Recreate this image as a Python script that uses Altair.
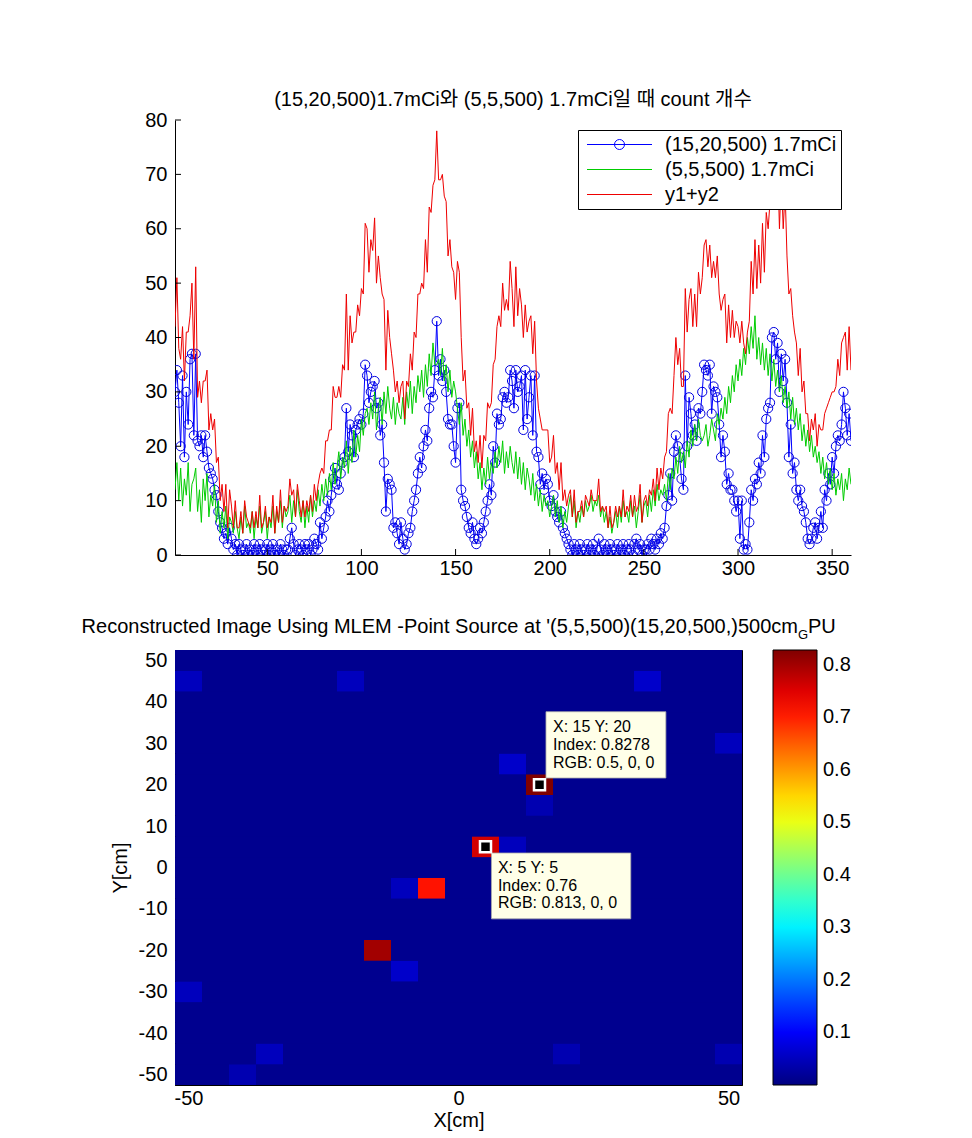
import altair as alt
import pandas as pd

FONT = "Liberation Sans, Arial, Noto Sans CJK KR, sans-serif"
FS = 20

# ---------------- top panel data ----------------
X_IDX = list(range(1, 361))
SERIES = ["(15,20,500) 1.7mCi", "(5,5,500) 1.7mCi", "y1+y2"]
SERIES_COLORS = ["#0000FF", "#00CC00", "#EE0000"]
TOP_TITLE = "(15,20,500)1.7mCi와 (5,5,500) 1.7mCi일 때 count 개수"
TOP_X_TICKS = [50, 100, 150, 200, 250, 300, 350]
TOP_Y_TICKS = [0, 10, 20, 30, 40, 50, 60, 70, 80]

Y1 = [
    30, 34, 28, 20, 33, 18, 30, 24, 36, 37,
    22, 37, 21, 20, 22, 18, 22, 19, 16, 15,
    14, 12, 11, 8, 6, 5, 3, 4, 2, 5,
    3, 1, 2, 0, 2, 1, 0, 1, 2, 0,
    1, 0, 2, 1, 0, 2, 1, 0, 1, 2,
    0, 1, 2, 0, 1, 0, 2, 1, 0, 1,
    1, 3, 5, 2, 0, 1, 2, 1, 0, 2,
    1, 2, 0, 1, 3, 2, 1, 6, 3, 5,
    7, 10, 8, 11, 14, 16, 13, 12, 15, 17,
    18, 27, 19, 24, 22, 18, 23, 24, 25, 24,
    26, 35, 33, 28, 30, 31, 32, 27, 28, 22,
    24, 17, 8, 14, 13, 12, 5, 6, 4, 2,
    6, 3, 1, 2, 4, 5, 8, 10, 12, 15,
    18, 16, 20, 23, 21, 27, 30, 29, 34, 43,
    33, 36, 32, 34, 30, 25, 24, 24, 20, 17,
    27, 28, 12, 10, 9, 7, 5, 4, 6, 3,
    2, 3, 5, 4, 6, 8, 10, 13, 11, 20,
    17, 26, 24, 25, 29, 30, 28, 29, 34, 32,
    27, 34, 30, 31, 33, 23, 34, 25, 29, 33,
    22, 33, 19, 18, 13, 15, 12, 14, 13, 10,
    9, 11, 8, 7, 6, 8, 5, 4, 3, 2,
    1, 0, 2, 1, 0, 2, 1, 0, 1, 2,
    0, 1, 2, 0, 1, 3, 1, 0, 2, 1,
    0, 2, 1, 0, 1, 2, 0, 1, 2, 0,
    1, 2, 1, 0, 2, 3, 1, 2, 0, 1,
    1, 2, 1, 3, 2, 1, 3, 2, 4, 3,
    5, 9, 11, 15, 10, 19, 22, 20, 18, 14,
    12, 33, 20, 29, 26, 22, 24, 21, 27, 26,
    30, 35, 34, 33, 35, 26, 31, 30, 29, 24,
    18, 22, 19, 13, 15, 12, 12, 10, 8, 10,
    3, 10, 1, 2, 1, 6, 12, 10, 14, 13,
    17, 15, 22, 18, 25, 27, 28, 40, 41, 36,
    39, 30, 37, 32, 36, 28, 18, 24, 15, 17,
    12, 10, 12, 9, 8, 6, 3, 2, 3, 5,
    6, 3, 5, 8, 5, 12, 10, 15, 13, 18,
    15, 20, 22, 21, 24, 30, 27, 22, 26, 21,
]

Y2 = [
    12, 17, 10, 16, 9, 14, 11, 17, 8, 13,
    14, 16, 8, 12, 6, 14, 10, 15, 7, 11,
    9, 13, 6, 10, 4, 8, 5, 9, 3, 7,
    6, 4, 8, 5, 3, 7, 4, 9, 5, 6,
    4, 8, 3, 7, 5, 9, 4, 6, 8, 3,
    7, 5, 9, 4, 8, 6, 10, 5, 9, 7,
    8, 11, 6, 10, 7, 12, 8, 6, 10, 5,
    9, 6, 11, 7, 10, 8, 12, 9, 13, 10,
    14, 11, 15, 12, 17, 13, 16, 19, 14, 18,
    16, 21, 15, 20, 17, 23, 18, 22, 19, 25,
    22, 26, 27, 24, 28, 25, 30, 23, 27, 29,
    24, 30, 26, 31, 27, 25, 29, 24, 28, 26,
    25, 29, 24, 30, 27, 32, 26, 31, 28, 33,
    30, 34, 29, 35, 31, 37, 33, 39, 35, 35,
    36, 33, 38, 32, 35, 30, 34, 29, 32, 30,
    27, 24, 28, 22, 25, 20, 23, 18, 21, 16,
    19, 14, 17, 12, 16, 13, 18, 14, 17, 15,
    19, 16, 20, 17, 21, 15, 19, 16, 20, 17,
    15, 19, 14, 18, 13, 17, 12, 16, 14, 11,
    15, 10, 13, 9, 12, 8, 11, 9, 10, 7,
    9, 11, 7, 10, 6, 9, 5, 8, 6, 9,
    11, 7, 10, 5, 8, 6, 9, 7, 10, 8,
    9, 11, 8, 10, 9, 11, 7, 9, 6, 8,
    5, 7, 4, 6, 8, 5, 9, 6, 10, 7,
    8, 6, 10, 7, 9, 5, 8, 11, 6, 9,
    10, 7, 11, 8, 12, 9, 13, 10, 12, 11,
    13, 10, 15, 12, 16, 14, 18, 15, 20, 17,
    19, 16, 21, 18, 23, 20, 24, 21, 25, 22,
    21, 22, 24, 20, 22, 25, 23, 21, 26, 24,
    27, 25, 29, 26, 31, 28, 33, 30, 35, 32,
    36, 33, 38, 35, 40, 37, 42, 38, 44, 36,
    40, 35, 39, 34, 38, 33, 37, 32, 36, 31,
    34, 30, 33, 28, 31, 27, 30, 25, 29, 24,
    27, 23, 26, 21, 24, 20, 23, 19, 22, 18,
    20, 17, 19, 15, 18, 14, 17, 13, 16, 12,
    15, 11, 14, 12, 15, 10, 14, 12, 16, 13,
]

# ---------------- bottom panel data ----------------
GRID = list(range(-50, 51, 5))
BG_VALUE = 0.012
BG_COLOR = "#00008E"
HOT_X = [15, 5, -5, -15, -50, -20, 35, 50, 10, 15, 10, -10, -10, -50, -35, -40, 20, 50]
HOT_Y = [20, 5, -5, -20, 45, 45, 45, 30, 25, 15, 5, -5, -25, -30, -45, -50, -45, -45]
HOT_V = [0.8278, 0.76, 0.71, 0.80, 0.05, 0.05, 0.06, 0.05, 0.06, 0.04,
         0.05, 0.05, 0.06, 0.05, 0.05, 0.04, 0.04, 0.04]
C_MIN, C_MAX = 0.0, 0.8278
JET_FRAC = [0, 0.125, 0.375, 0.625, 0.875, 1.0]
JET_COLORS = ["#000080", "#0000FF", "#00FFFF", "#FFFF00", "#FF0000", "#800000"]
CBAR_TICKS = [0.1, 0.2, 0.3, 0.4, 0.5, 0.6, 0.7, 0.8]
HX_TICKS = [-50, 0, 50]
HY_TICKS = [-50, -40, -30, -20, -10, 0, 10, 20, 30, 40, 50]

TIP_BOX_X1 = [16.2, 6.1]
TIP_BOX_X2 = [38.4, 31.9]
TIP_BOX_Y1 = [37.6, 3.5]
TIP_BOX_Y2 = [21.6, -12.4]
TIP_TEXT = ["X: 15 Y: 20", "Index: 0.8278", "RGB: 0.5, 0, 0",
            "X: 5 Y: 5", "Index: 0.76", "RGB: 0.813, 0, 0"]
TIP_TX = [17.5, 17.5, 17.5, 7.3, 7.3, 7.3]
TIP_TY = [33.9, 29.6, 25.2, -0.1, -4.4, -8.6]
MARK_X = [15, 5]
MARK_Y = [20, 5]

BOTTOM_TITLE_MAIN = "Reconstructed Image Using MLEM -Point Source at '(5,5,500)(15,20,500,)500cm"
BOTTOM_TITLE_SUB = "G"
BOTTOM_TITLE_TAIL = "PU"

assert len(Y1) == 360 and len(Y2) == 360

# ---------------- build tables ----------------
Y3 = [a + b for a, b in zip(Y1, Y2)]
rows = []
for name, vals in zip(SERIES, [Y1, Y2, Y3]):
    for xv, v in zip(X_IDX, vals):
        rows.append({"x": xv, "value": v, "series": name})
lines_df = pd.DataFrame(rows)

hot = {(hx, hy): hv for hx, hy, hv in zip(HOT_X, HOT_Y, HOT_V)}
cells = []
for gx in GRID:
    for gy in GRID:
        cells.append({"x": gx, "y": gy, "v": hot.get((gx, gy), BG_VALUE)})
hm_df = pd.DataFrame(cells)

# ---------------- top panel ----------------
W1, H1 = 676, 435
xs1 = alt.Scale(domain=[1, 360], nice=False, zero=False)
ys1 = alt.Scale(domain=[0, 80], nice=False, zero=False)
cs1 = alt.Scale(domain=SERIES, range=SERIES_COLORS)

ax_x1 = alt.Axis(values=TOP_X_TICKS, title=None, grid=False, ticks=False, tickSize=0,
                 labelPadding=3, labelFlush=False, labelFontSize=FS)
ax_y1 = alt.Axis(values=TOP_Y_TICKS, title=None, grid=False, ticks=False, tickSize=0,
                 labelPadding=8, labelFlush=False, labelFontSize=FS)

SYM_LINE = "M-3.25,0H3.25"
SYM_LINE_CIRCLE = "M-3.25,0H3.25M0.5,0A0.5,0.5,0,1,1,-0.5,0A0.5,0.5,0,1,1,0.5,0"

leg1 = alt.Legend(title=None, orient="none", legendX=403, legendY=10,
                  fillColor="white", strokeColor="black", padding=4,
                  symbolSize=400, symbolStrokeWidth=1, symbolOffset=27,
                  labelOffset=35, labelFontSize=FS, labelFont=FONT, labelLimit=400,
                  labelColor="black", rowPadding=4, symbolFillColor="transparent",
                  cornerRadius=0)

X1 = alt.X("x:Q", scale=xs1, axis=ax_x1)
Y1E = alt.Y("value:Q", scale=ys1, axis=ax_y1)


def series_line(name):
    return alt.Chart(lines_df).transform_filter(alt.datum.series == name).mark_line(
        strokeWidth=1, clip=True
    ).encode(x=X1, y=Y1E, color=alt.Color("series:N", scale=cs1, legend=leg1))


blue_line = series_line(SERIES[0])
green_line = series_line(SERIES[1])
red_line = series_line(SERIES[2])

blue_pts = alt.Chart(lines_df).transform_filter(alt.datum.series == SERIES[0]).mark_point(
    shape="circle", filled=False, size=85, strokeWidth=1, color="#0000E0", opacity=1, clip=True
).encode(x=X1, y=Y1E)

legend_df = pd.DataFrame({"series": SERIES, "x": [-1000] * 3, "value": [-1000] * 3})
legend_helper = alt.Chart(legend_df).mark_point(filled=False, clip=True, strokeWidth=1, opacity=1).encode(
    x=X1, y=Y1E,
    color=alt.Color("series:N", scale=cs1, legend=leg1),
    shape=alt.Shape("series:N", scale=alt.Scale(domain=SERIES, range=[SYM_LINE_CIRCLE, SYM_LINE, SYM_LINE]),
                    legend=leg1),
)

ytk = alt.Chart(pd.DataFrame({"value": TOP_Y_TICKS})).mark_rule(color="black", strokeWidth=1).encode(
    y=Y1E, x=alt.value(0), x2=alt.value(6))
xtk = alt.Chart(pd.DataFrame({"x": TOP_X_TICKS})).mark_rule(color="black", strokeWidth=1).encode(
    x=X1, y=alt.value(H1), y2=alt.value(H1 - 6))

top = alt.layer(blue_line, blue_pts, green_line, red_line, legend_helper, ytk, xtk).properties(
    width=W1, height=H1,
    title=alt.Title(TOP_TITLE, fontSize=FS, font=FONT, fontWeight="normal", color="black",
                    offset=0, anchor="middle", frame="group"),
)

# ---------------- bottom panel ----------------
W2, H2 = 567, 435
hxs = alt.Scale(domain=[-52.5, 52.5], nice=False, zero=False)
hys = alt.Scale(domain=[-52.5, 52.5], nice=False, zero=False)
jet = alt.Scale(domain=[C_MIN + f * (C_MAX - C_MIN) for f in JET_FRAC], range=JET_COLORS,
                interpolate="rgb", zero=False, nice=False)

ax_hx = alt.Axis(values=HX_TICKS, title="X[cm]", grid=False, ticks=False, tickSize=0,
                 labelPadding=3, labelFlush=False, labelExpr="'' + datum.value",
                 titlePadding=2, titleFontSize=FS, titleFontWeight="normal", labelFontSize=FS)
ax_hy = alt.Axis(values=HY_TICKS, title="Y[cm]", grid=False, ticks=False, tickSize=0,
                 labelPadding=8, labelFlush=False, labelExpr="'' + datum.value",
                 titlePadding=8, titleFontSize=FS, titleFontWeight="normal", labelFontSize=FS)

cbar = alt.Legend(title=None, orient="right", offset=31, direction="vertical",
                  gradientLength=435, gradientThickness=44, gradientStrokeColor="black",
                  gradientStrokeWidth=1, values=CBAR_TICKS, format=".1f",
                  labelFontSize=FS, labelFont=FONT, labelColor="black", labelOffset=6,
                  labelOverlap=False, padding=0, type="gradient")

HX = alt.X("x0:Q", scale=hxs, axis=ax_hx)
HY = alt.Y("y0:Q", scale=hys, axis=ax_hy)

heat = alt.Chart(hm_df).transform_calculate(
    x0="datum.x - 2.5", x1="datum.x + 2.5", y0="datum.y - 2.5", y1="datum.y + 2.5"
).mark_rect(strokeWidth=0).encode(
    x=HX, x2="x1:Q", y=HY, y2="y1:Q",
    color=alt.Color("v:Q", scale=jet, legend=cbar),
)

box_df = pd.DataFrame({"x0": TIP_BOX_X1, "x1": TIP_BOX_X2, "y0": TIP_BOX_Y1, "y1": TIP_BOX_Y2})
boxes = alt.Chart(box_df).mark_rect(fill="#FFFFE8", stroke="#AAAAAA", strokeWidth=0.8).encode(
    x=HX, x2="x1:Q", y=HY, y2="y1:Q")

tip_df = pd.DataFrame({"x0": TIP_TX, "y0": TIP_TY, "t": TIP_TEXT})
tips = alt.Chart(tip_df).mark_text(align="left", baseline="middle", fontSize=16, font=FONT,
                                   color="black").encode(x=HX, y=HY, text="t:N")

mk_df = pd.DataFrame({"x0": MARK_X, "y0": MARK_Y})
markers = alt.Chart(mk_df).mark_square(size=121, fill="black", stroke="white", strokeWidth=2.5,
                                       opacity=1, fillOpacity=1).encode(x=HX, y=HY)

t_main = alt.Chart(pd.DataFrame({"t": [BOTTOM_TITLE_MAIN]})).mark_text(
    align="right", baseline="alphabetic", fontSize=FS, font=FONT, color="black"
).encode(text="t:N", x=alt.value(623), y=alt.value(-17))
t_sub = alt.Chart(pd.DataFrame({"t": [BOTTOM_TITLE_SUB]})).mark_text(
    align="left", baseline="alphabetic", fontSize=13, font=FONT, color="black"
).encode(text="t:N", x=alt.value(623), y=alt.value(-11))
t_tail = alt.Chart(pd.DataFrame({"t": [BOTTOM_TITLE_TAIL]})).mark_text(
    align="left", baseline="alphabetic", fontSize=FS, font=FONT, color="black"
).encode(text="t:N", x=alt.value(633), y=alt.value(-17))

bottom = alt.layer(heat, boxes, tips, markers, t_main, t_sub, t_tail).properties(
    width=W2, height=H2, view=alt.ViewBackground(stroke="black", strokeWidth=1, fill=BG_COLOR)
)

chart = alt.vconcat(top, bottom, spacing=95, bounds="flush").resolve_scale(
    color="independent", shape="independent"
).properties(
    padding={"left": 73, "top": 81, "right": 5, "bottom": 5}
).configure_view(stroke="transparent").configure_axis(
    labelFont=FONT, titleFont=FONT, labelColor="black", titleColor="black",
    domainColor="black", domainWidth=1
)

chart.save("out.html", embed_options={"renderer": "svg", "actions": False})
